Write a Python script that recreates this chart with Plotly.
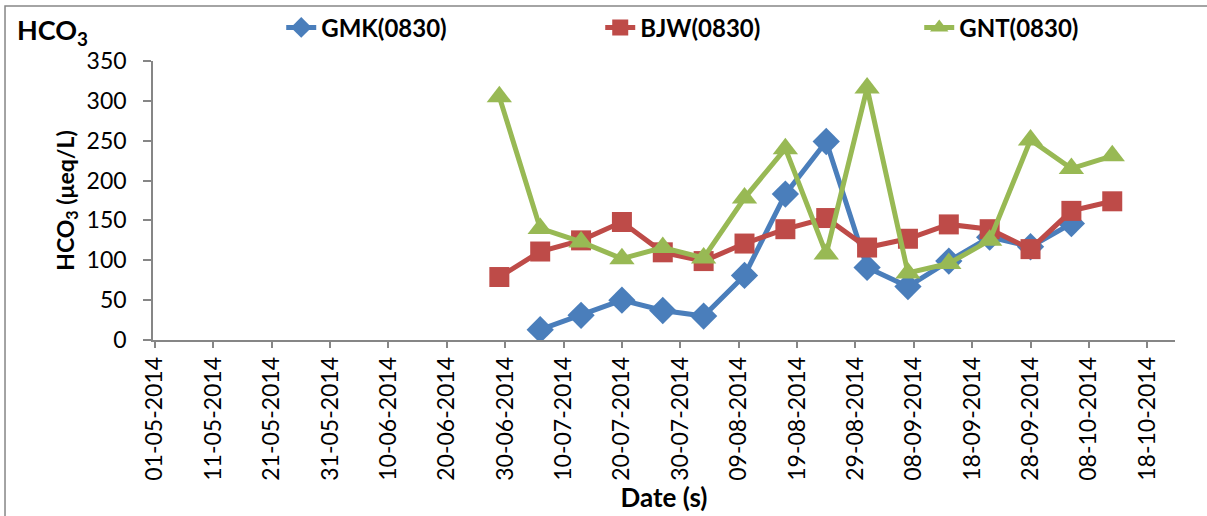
import plotly.graph_objects as go

dates_all = ["2014-06-29", "2014-07-06", "2014-07-13", "2014-07-20", "2014-07-27",
             "2014-08-03", "2014-08-10", "2014-08-17", "2014-08-24", "2014-08-31",
             "2014-09-07", "2014-09-14", "2014-09-21", "2014-09-28", "2014-10-05",
             "2014-10-12"]

gmk_dates = dates_all[1:15]
gmk_values = [13, 31, 50, 37, 30, 81, 183, 249, 91, 67, 99, 129, 117, 146]

bjw_dates = dates_all
bjw_values = [79, 111, 125, 148, 110, 99, 121, 139, 153, 116, 127, 145, 139, 114, 162, 174]

gnt_dates = dates_all
gnt_values = [305, 140, 123, 102, 116, 103, 178, 240, 108, 316, 84, 96, 125, 251, 215, 231]

tick_dates = ["2014-05-01", "2014-05-11", "2014-05-21", "2014-05-31", "2014-06-10",
              "2014-06-20", "2014-06-30", "2014-07-10", "2014-07-20", "2014-07-30",
              "2014-08-09", "2014-08-19", "2014-08-29", "2014-09-08", "2014-09-18",
              "2014-09-28", "2014-10-08", "2014-10-18"]

FONT = "Lato"
AX = "#868686"

fig = go.Figure()
fig.add_trace(go.Scatter(x=gmk_dates, y=gmk_values, name="GMK(0830)", mode="lines+markers",
                         line=dict(color="#4A7EBB", width=5),
                         marker=dict(symbol="diamond", size=21, color="#4A7EBB")))
fig.add_trace(go.Scatter(x=bjw_dates, y=bjw_values, name="BJW(0830)", mode="lines+markers",
                         line=dict(color="#BE4B48", width=5),
                         marker=dict(symbol="square", size=20, color="#BE4B48")))
fig.add_trace(go.Scatter(x=gnt_dates, y=gnt_values, name="GNT(0830)", mode="lines+markers",
                         line=dict(color="#98B954", width=5),
                         marker=dict(symbol="triangle-up", size=22, color="#98B954")))

fig.update_layout(
    width=1207, height=516,
    margin=dict(l=153, r=32, t=61, b=176, autoexpand=False),
    paper_bgcolor="white", plot_bgcolor="white",
    font=dict(family=FONT, size=20, color="black"),
    title=dict(text="<b>HCO<sub>3</sub></b>", x=0.014, y=0.941, xref="container",
               yref="container", xanchor="left", yanchor="middle",
               pad=dict(l=0, r=0, t=0, b=0),
               font=dict(family=FONT, size=27, color="black")),
    legend=dict(orientation="h", x=0.233, y=0.946, xref="container", yref="container",
                xanchor="left", yanchor="middle",
                font=dict(family=FONT, size=24, color="black", weight="bold"),
                entrywidth=274, entrywidthmode="pixels", bgcolor="rgba(0,0,0,0)"),
    showlegend=True,
    xaxis=dict(type="date", range=["2014-04-30 16:00", "2014-10-22 18:00"],
               tickvals=tick_dates, tickformat="%d-%m-%Y", tickangle=-90,
               showgrid=False, zeroline=False, showline=True, linecolor=AX, linewidth=1.5,
               ticks="outside", ticklen=6, tickcolor=AX, tickwidth=1.5,
               automargin=False,
               tickfont=dict(family=FONT, size=23, color="black"),
               title=dict(text="<b>Date (s)</b>", standoff=4,
                          font=dict(family=FONT, size=26, color="black"))),
    yaxis=dict(range=[0, 350], dtick=50, showgrid=False, zeroline=False,
               showline=True, linecolor=AX, linewidth=1.5,
               ticks="outside", ticklen=8, tickcolor=AX, tickwidth=1.5,
               ticklabelstandoff=12,
               automargin=False,
               tickfont=dict(family=FONT, size=23, color="black"),
               title=dict(text="<b>HCO<sub>3</sub> (μeq/L)</b>", standoff=6,
                          font=dict(family=FONT, size=23, color="black"))),
    shapes=[dict(type="rect", xref="paper", yref="paper", x0=-0.1448, x1=1.04,
                 y0=-0.66, y1=1.197, line=dict(color=AX, width=1.5), layer="below")],
)

fig.write_html("out.html", config={"displayModeBar": False},
               post_script="document.body.style.margin='0';")
